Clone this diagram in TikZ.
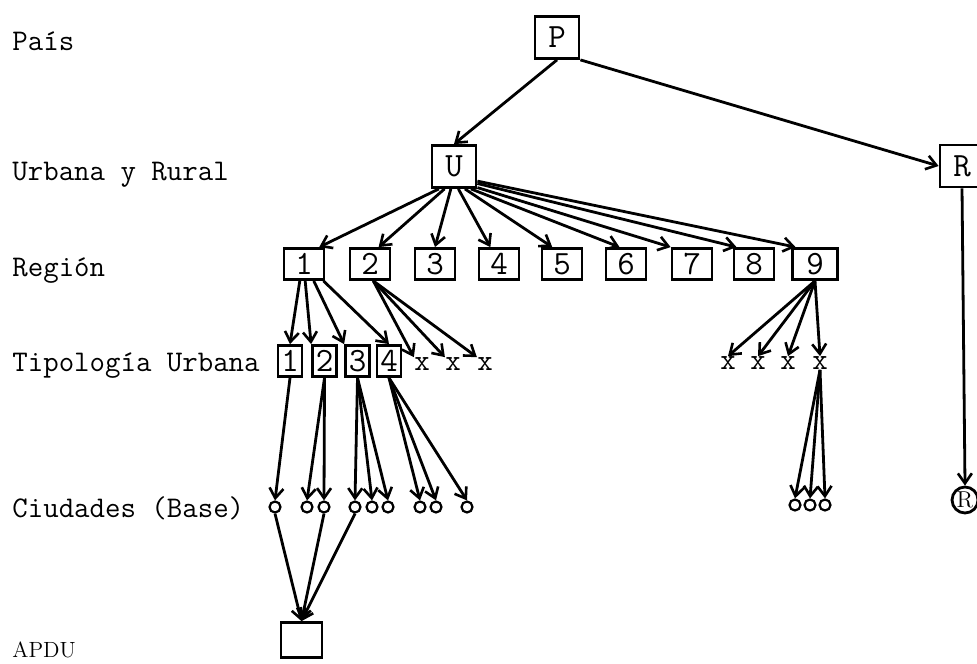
\documentclass[tikz,border=0pt]{standalone}
\usepackage{fontspec}
\usetikzlibrary{arrows.meta}
\newcommand\lblfont{\fontsize{15}{18}\selectfont\ttfamily}
\newcommand\boxfont{\fontsize{17}{20}\selectfont\ttfamily}
\begin{document}
\begin{tikzpicture}[x=0.5pt,y=-0.5pt,
  lab/.style={anchor=base west,inner sep=0,font=\lblfont},
  bigbox/.style={draw,line width=1.4pt,minimum width=22pt,minimum height=21pt,inner sep=0,font=\boxfont},
  regbox/.style={draw,line width=1.4pt,minimum width=20pt,minimum height=15.5pt,inner sep=0,font=\boxfont},
  tipbox/.style={draw,line width=1.4pt,minimum width=12pt,minimum height=15.5pt,inner sep=0,font=\boxfont},
  xmark/.style={inner sep=0pt,font=\lblfont},
  city/.style={draw,circle,line width=1.1pt,minimum size=5.5pt,inner sep=0},
  arr/.style={line width=1.4pt,-{Straight Barb[length=5pt,width=7pt,line width=1.3pt]}},
]
\useasboundingbox (0,0) rectangle (977,663);

% level labels
\node[lab] (lp) at (12,51) {País};
\node[lab] (lu) at (12,180) {Urbana y Rural};
\node[lab] (lr) at (12,276) {Región};
\node[lab] (lt) at (12,371) {Tipología Urbana};
\node[lab] (lc) at (12,517) {Ciudades (Base)};
\node[lab,font=\fontsize{11}{13}\selectfont\rmfamily] (la) at (12,657) {APDU};

% top nodes
\node[bigbox] (P) at (557,37.5) {P};
\node[bigbox] (U) at (454,166.5) {U};
\node[bigbox] (R) at (962,166) {R};
\node[circle,draw,line width=1.4pt,minimum size=12.5pt,inner sep=0.5pt,
      font=\fontsize{11.5}{12}\selectfont\rmfamily] (Rc) at (965,500) {R};

\draw[arr] (P.south) -- (U.north);
\draw[arr] (P.south east) -- (R.west);
\draw[arr] (R.south) -- (Rc.north);

% regions
\foreach \i/\x in {1/304,2/370,3/435,4/499,5/562,6/626,7/692,8/754}
  \node[regbox] (r\i) at (\x,264) {\i};
\node[regbox,minimum width=22.5pt] (r9) at (815,264) {9};

\draw[arr] (U.-124) -- (r1.48);
\draw[arr] (U.-113) -- (r2.63);
\draw[arr] (U.-98) -- (r3.north);
\draw[arr] (U.-79) -- (r4.117);
\draw[arr] (U.-64) -- (r5.120);
\draw[arr] (U.-53) -- (r6.111);
\draw[arr] (U.-42) -- (r7.north west);
\draw[arr] (U.-36) -- (r8.136);
\draw[arr] (U.-32) -- (r9.139);

% urban typology
\node[tipbox] (t1) at (290,361) {1};
\node[tipbox] (t2) at (324.5,361) {2};
\node[tipbox] (t3) at (357.5,361) {3};
\node[tipbox] (t4) at (389,361) {4};
\node[xmark] (xa1) at (422,364) {x};
\node[xmark] (xa2) at (453,364) {x};
\node[xmark] (xa3) at (485,364) {x};
\node[xmark] (xb1) at (728,363) {x};
\node[xmark] (xb2) at (758,363) {x};
\node[xmark] (xb3) at (788,363) {x};
\node[xmark] (xb4) at (820,363) {x};

\draw[arr] (r1.-104) -- (t1.north);
\draw[arr] (r1.-86) -- (t2.north west);
\draw[arr] (r1.-60) -- (t3.north west);
\draw[arr] (r1.-41) -- (t4.north);
\draw[arr] (r2.-79) -- (xa1.north west);
\draw[arr] (r2.-79) -- (xa2.north west);
\draw[arr] (r2.-79) -- (xa3.north west);
\draw[arr] (r9.south) -- (xb1.north);
\draw[arr] (r9.south) -- (xb2.north);
\draw[arr] (r9.south) -- (xb3.north);
\draw[arr] (r9.south) -- (xb4.north);

% cities
\foreach \i/\x in {1/275,2/307,3/324,4/355,5/372,6/388,7/420,8/436,9/467}
  \node[city] (c\i) at (\x,507) {};
\foreach \i/\x in {1/795,2/810,3/825}
  \node[city] (d\i) at (\x,505) {};

\draw[arr] (t1.south) -- (c1.north);
\draw[arr] (t2.south) -- (c2.north);
\draw[arr] (t2.south) -- (c3.north);
\draw[arr] (t3.south) -- (c4.north);
\draw[arr] (t3.south) -- (c5.north);
\draw[arr] (t3.south) -- (c6.north);
\draw[arr] (t4.south) -- (c7.north);
\draw[arr] (t4.south) -- (c8.north);
\draw[arr] (t4.south) -- (c9.north);
\draw[arr] (xb4.south) -- (d1.north);
\draw[arr] (xb4.south) -- (d2.north);
\draw[arr] (xb4.south) -- (d3.north);

% APDU
\node[draw,line width=1.4pt,minimum width=20.5pt,minimum height=17.5pt,inner sep=0] (A) at (301.5,640) {};
\draw[arr] (c1.south) -- (A.north);
\draw[arr] (c3.south) -- (A.north);
\draw[arr] (c4.south) -- (A.north);
\end{tikzpicture}
\end{document}
